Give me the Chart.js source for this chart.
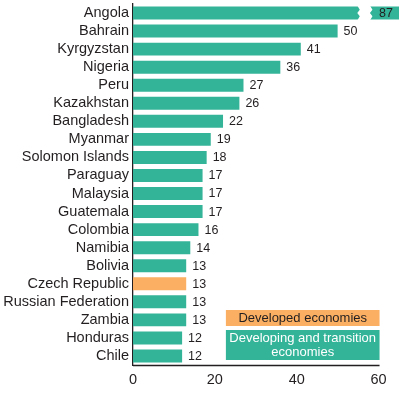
<!DOCTYPE html>
<html>
<head>
<meta charset="utf-8">
<script src="https://cdn.jsdelivr.net/npm/chart.js@4/dist/chart.umd.min.js"></script>
<style>
  body { margin: 0; background: #fff; }
  #wrap { width: 399px; height: 398px; position: relative; }
</style>
</head>
<body>
<div id="wrap"><canvas id="chart"></canvas></div>
<script>
const countries = [
  "Angola", "Bahrain", "Kyrgyzstan", "Nigeria", "Peru", "Kazakhstan",
  "Bangladesh", "Myanmar", "Solomon Islands", "Paraguay", "Malaysia",
  "Guatemala", "Colombia", "Namibia", "Bolivia", "Czech Republic",
  "Russian Federation", "Zambia", "Honduras", "Chile",
];
const values = [87, 50, 41, 36, 27, 26, 22, 19, 18, 17, 17, 17, 16, 14, 13, 13, 13, 13, 12, 12];
const groups = ["dev", "dev", "dev", "dev", "dev", "dev", "dev", "dev", "dev", "dev",
  "dev", "dev", "dev", "dev", "dev", "developed", "dev", "dev", "dev", "dev"];
const xTicks = [0, 20, 40, 60];
const xMax = 65; // axis is broken past this, Angola gets cut

const TEAL = "#33b398";
const ORANGE = "#fbaf62";
const INK = "#231f20";
const FONT = "'Liberation Sans', Arial, sans-serif";

const barColors = groups.map((g) => (g === "developed" ? ORANGE : TEAL));
const shown = values.map((v) => Math.min(v, xMax));

// value labels, axis line, break mark and the legend boxes
const extras = {
  id: "extras",
  afterDatasetsDraw(chart) {
    const { ctx, chartArea, scales } = chart;
    const x = scales.x;
    const meta = chart.getDatasetMeta(0);

    ctx.save();
    ctx.font = "12.5px " + FONT;
    ctx.fillStyle = INK;
    ctx.textBaseline = "middle";
    meta.data.forEach((bar, i) => {
      if (values[i] > xMax) {
        // break mark
        const h = bar.height / 2;
        const x1 = x.getPixelForValue(54.8);
        const x2 = x.getPixelForValue(57.9);
        const w = 2.5;
        ctx.fillStyle = "#fff";
        ctx.beginPath();
        ctx.moveTo(x1, bar.y - h - 1);
        ctx.lineTo(x1 + w, bar.y - h / 2);
        ctx.lineTo(x1, bar.y);
        ctx.lineTo(x1 + w, bar.y + h / 2);
        ctx.lineTo(x1, bar.y + h + 1);
        ctx.lineTo(x2, bar.y + h + 1);
        ctx.lineTo(x2 + w, bar.y + h / 2);
        ctx.lineTo(x2, bar.y);
        ctx.lineTo(x2 + w, bar.y - h / 2);
        ctx.lineTo(x2, bar.y - h - 1);
        ctx.closePath();
        ctx.fill();
        ctx.fillStyle = INK;
        ctx.textAlign = "right";
        ctx.fillText(String(values[i]), bar.x - 6, bar.y + 0.5);
      } else {
        ctx.textAlign = "left";
        ctx.fillText(String(values[i]), bar.x + 6, bar.y + 0.5);
      }
    });

    // x axis line, only up to the last tick
    ctx.strokeStyle = INK;
    ctx.lineWidth = 1.3;
    ctx.beginPath();
    ctx.moveTo(x.getPixelForValue(0), chartArea.bottom + 0.5);
    ctx.lineTo(x.getPixelForValue(60) + 1, chartArea.bottom + 0.5);
    ctx.stroke();

    // legend
    const lx = x.getPixelForValue(22.7);
    const lw = x.getPixelForValue(60) + 1 - lx;
    const b = chartArea.bottom;
    ctx.fillStyle = ORANGE;
    ctx.fillRect(lx, b - 55, lw, 16);
    ctx.fillStyle = TEAL;
    ctx.fillRect(lx, b - 35, lw, 30);
    ctx.font = "13px " + FONT;
    ctx.textAlign = "center";
    ctx.fillStyle = INK;
    ctx.fillText("Developed economies", lx + lw / 2, b - 46.5);
    ctx.fillStyle = "#fff";
    ctx.fillText("Developing and transition", lx + lw / 2, b - 27);
    ctx.fillText("economies", lx + lw / 2, b - 13);
    ctx.restore();
  },
};

new Chart(document.getElementById("chart"), {
  type: "bar",
  data: {
    labels: countries,
    datasets: [
      {
        data: shown,
        backgroundColor: barColors,
        borderWidth: 0,
        barPercentage: 0.72,
        categoryPercentage: 1,
      },
    ],
  },
  options: {
    indexAxis: "y",
    responsive: true,
    maintainAspectRatio: false,
    animation: false,
    events: [],
    layout: { padding: { top: 4, right: 0, left: 0, bottom: 0 } },
    plugins: {
      legend: { display: false },
      tooltip: { enabled: false },
    },
    scales: {
      x: {
        min: 0,
        max: xMax,
        grid: { display: false, drawTicks: false },
        border: { display: false },
        afterBuildTicks: (scale) => {
          scale.ticks = xTicks.map((v) => ({ value: v }));
        },
        afterFit: (scale) => {
          scale.height = 33;
        },
        ticks: {
          padding: 6,
          color: INK,
          maxRotation: 0,
          font: { family: FONT, size: 14.5 },
        },
      },
      y: {
        grid: { display: false, drawTicks: false },
        border: { display: true, color: INK, width: 1.3 },
        afterFit: (scale) => {
          scale.width = 133;
          scale.paddingTop = 0;
          scale.paddingBottom = 0;
        },
        ticks: {
          padding: 4,
          color: INK,
          autoSkip: false,
          font: { family: FONT, size: 14.5 },
        },
      },
    },
  },
  plugins: [extras],
});
</script>
</body>
</html>
